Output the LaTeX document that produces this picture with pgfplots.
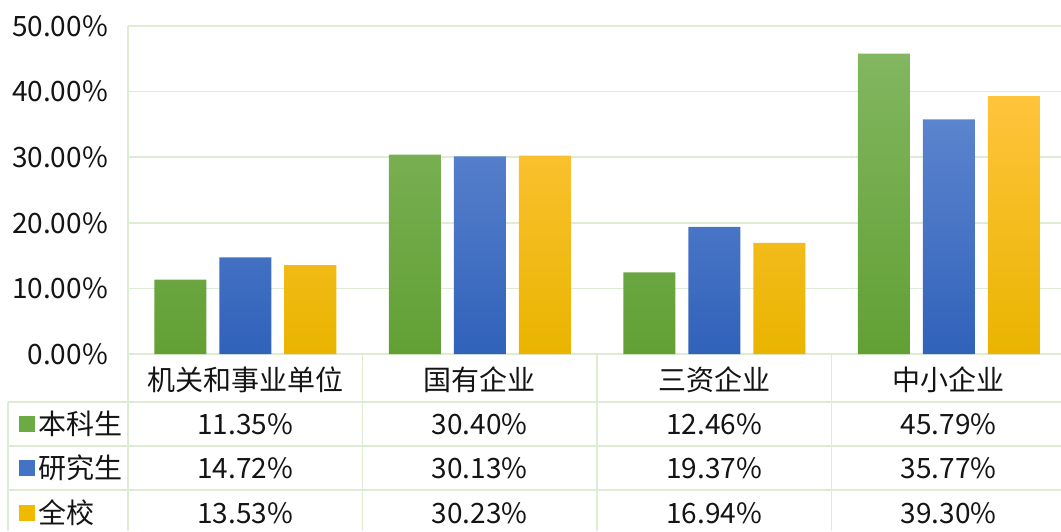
\documentclass[border=0pt]{standalone}
\usepackage{pgfplots}
\pgfplotsset{compat=1.18}
\usepackage{fontspec}
\setmainfont{Noto Sans CJK SC}
\definecolor{gridc}{RGB}{222,236,214}
\definecolor{txt}{RGB}{20,20,20}
\definecolor{gtop}{RGB}{130,182,96}
\definecolor{gbot}{RGB}{98,160,52}
\definecolor{btop}{RGB}{92,132,206}
\definecolor{bbot}{RGB}{48,98,186}
\definecolor{ytop}{RGB}{255,196,60}
\definecolor{ybot}{RGB}{234,180,0}
\definecolor{gsq}{RGB}{108,170,66}
\definecolor{bsq}{RGB}{68,114,196}
\definecolor{ysq}{RGB}{240,186,0}
\begin{document}
\fontsize{28}{32}\selectfont
\color{txt}%
\begin{tikzpicture}[x=1pt,y=1pt]
\path[use as bounding box] (0,0) rectangle (1061,531);
\begin{axis}[
  at={(128pt,177pt)}, anchor=south west,
  x=234.5pt, y=6.56pt,
  xmin=-0.5, xmax=3.5, ymin=0, ymax=50,
  axis lines*=left,
  axis line style={gridc, line width=1.5pt},
  ymajorgrids, grid style={gridc, line width=1.5pt},
  major tick length=0pt,
  ybar=13pt, bar width=52pt,
  ytick={0,10,20,30,40,50},
  /pgf/number format/assume math mode=true,
  yticklabel={\pgfmathprintnumber[fixed,fixed zerofill,precision=2]{\tick}\%},
  yticklabel style={anchor=east, inner sep=0pt, xshift=-20pt, text=txt},
  xtick={0,1,2,3},
  xticklabels={机关和事业单位,国有企业,三资企业,中小企业},
  xticklabel style={anchor=center, inner sep=0pt, yshift=-26pt, text=txt},
  clip=false,
]
\addplot[draw=none, top color=gtop, bottom color=gbot] coordinates {(0,11.35) (1,30.40) (2,12.46) (3,45.79)};
\addplot[draw=none, top color=btop, bottom color=bbot] coordinates {(0,14.72) (1,30.13) (2,19.37) (3,35.77)};
\addplot[draw=none, top color=ytop, bottom color=ybot] coordinates {(0,13.53) (1,30.23) (2,16.94) (3,39.30)};
\end{axis}
% table grid
\draw[gridc, line width=1.5pt] (8,129) -- (1061,129);
\draw[gridc, line width=1.5pt] (8,85) -- (1061,85);
\draw[gridc, line width=1.5pt] (8,41) -- (1061,41);
\draw[gridc, line width=1.5pt] (8,129) -- (8,0);
\draw[gridc, line width=1.5pt] (128,177) -- (128,0);
\draw[gridc, line width=1.5pt] (362.5,177) -- (362.5,0);
\draw[gridc, line width=1.5pt] (597,177) -- (597,0);
\draw[gridc, line width=1.5pt] (831.5,177) -- (831.5,0);
% legend keys
\node[fill=gsq, minimum size=16pt, inner sep=0pt] at (27,107) {};
\node[fill=bsq, minimum size=16pt, inner sep=0pt] at (27,63) {};
\node[fill=ysq, minimum size=16pt, inner sep=0pt] at (27,18) {};
\node[anchor=west, inner sep=0pt] at (38,107) {本科生};
\node[anchor=west, inner sep=0pt] at (38,63) {研究生};
\node[anchor=west, inner sep=0pt] at (38,18) {全校};
% values
\foreach \v [count=\i from 0] in {11.35,30.40,12.46,45.79} {\node[inner sep=0pt] at ({245.25+234.5*\i},107) {\v\%};}
\foreach \v [count=\i from 0] in {14.72,30.13,19.37,35.77} {\node[inner sep=0pt] at ({245.25+234.5*\i},63) {\v\%};}
\foreach \v [count=\i from 0] in {13.53,30.23,16.94,39.30} {\node[inner sep=0pt] at ({245.25+234.5*\i},18) {\v\%};}
\end{tikzpicture}
\end{document}
